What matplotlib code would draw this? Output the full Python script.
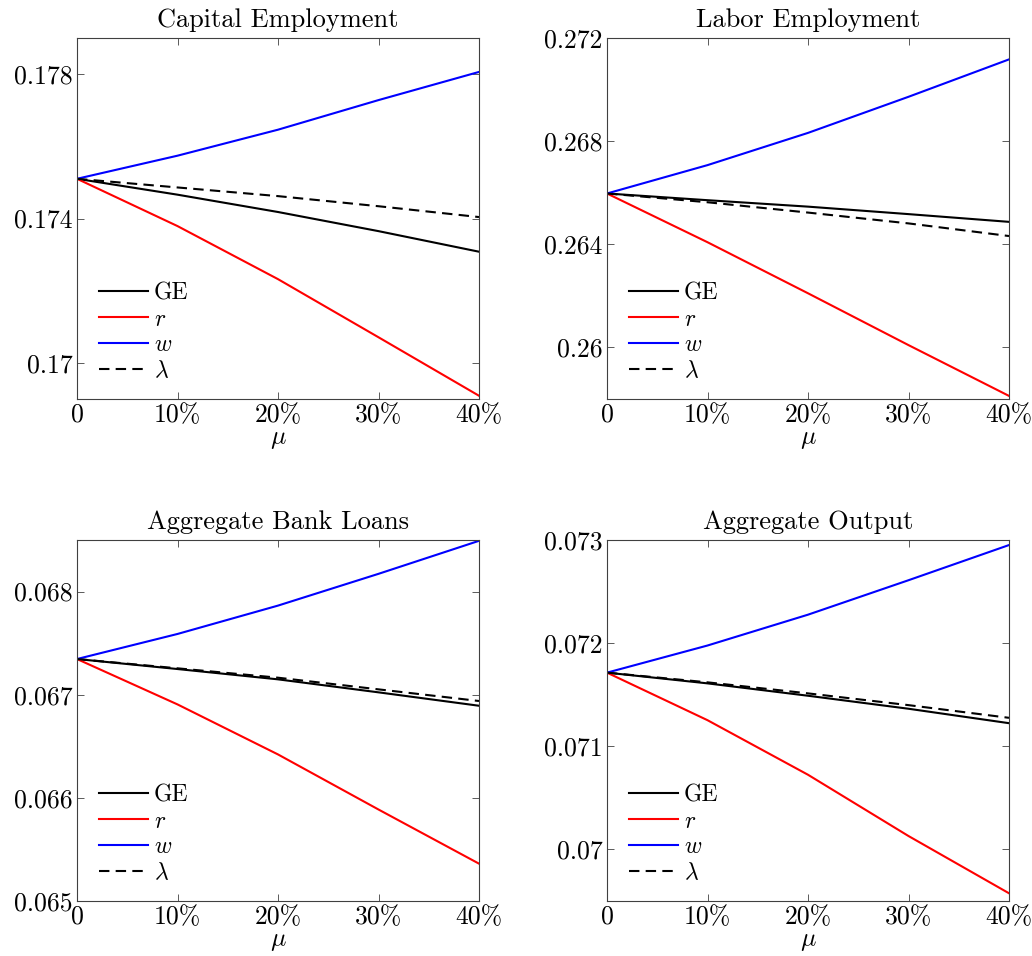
"""
Four-panel comparison: GE vs partial channels (r, w, lambda) over mu
"""
import matplotlib
matplotlib.use('Agg')
import matplotlib.pyplot as plt

plt.rcParams['font.family'] = ['cmr10', 'DejaVu Serif']
plt.rcParams['mathtext.fontset'] = 'cm'
plt.rcParams['axes.formatter.use_mathtext'] = True

# data points
mu = [0.0, 0.1, 0.2, 0.3, 0.4]
mu_ticklabels = ['0', '10%', '20%', '30%', '40%']
series_labels = ['GE', '$r$', '$w$', r'$\lambda$']

titles = ['Capital Employment', 'Labor Employment',
          'Aggregate Bank Loans', 'Aggregate Output']

capital_ge = [0.17510, 0.17466, 0.17418, 0.17365, 0.17308]
capital_r = [0.17510, 0.17379, 0.17232, 0.17071, 0.16909]
capital_w = [0.17510, 0.17574, 0.17646, 0.17728, 0.17806]
capital_lam = [0.17510, 0.17486, 0.17462, 0.17434, 0.17404]

labor_ge = [0.26597, 0.26571, 0.26546, 0.26517, 0.26487]
labor_r = [0.26597, 0.26408, 0.26210, 0.26009, 0.25812]
labor_w = [0.26597, 0.26707, 0.26832, 0.26972, 0.27117]
labor_lam = [0.26597, 0.26563, 0.26523, 0.26481, 0.26432]

loans_ge = [0.067346, 0.067249, 0.067149, 0.067023, 0.066893]
loans_r = [0.067346, 0.066906, 0.066421, 0.065887, 0.065362]
loans_w = [0.067346, 0.067589, 0.067864, 0.068172, 0.068492]
loans_lam = [0.067346, 0.067256, 0.067165, 0.067052, 0.066939]

output_ge = [0.071714, 0.071610, 0.071490, 0.071364, 0.071224]
output_r = [0.071714, 0.071253, 0.070724, 0.070130, 0.069575]
output_w = [0.071714, 0.071977, 0.072276, 0.072610, 0.072951]
output_lam = [0.071714, 0.071620, 0.071513, 0.071399, 0.071276]

# y axis setup for each panel
ylims = [(0.169, 0.179), (0.258, 0.272), (0.065, 0.0685), (0.0695, 0.073)]
yticks = [[0.17, 0.174, 0.178], [0.26, 0.264, 0.268, 0.272],
          [0.065, 0.066, 0.067, 0.068], [0.07, 0.071, 0.072, 0.073]]
yticklabels = [['0.17', '0.174', '0.178'], ['0.26', '0.264', '0.268', '0.272'],
               ['0.065', '0.066', '0.067', '0.068'], ['0.07', '0.071', '0.072', '0.073']]

panels = [
    (capital_ge, capital_r, capital_w, capital_lam),
    (labor_ge, labor_r, labor_w, labor_lam),
    (loans_ge, loans_r, loans_w, loans_lam),
    (output_ge, output_r, output_w, output_lam),
]

fig = plt.figure(figsize=(10.32, 9.56), dpi=100)
W, H = 1032, 956
# axes boxes in pixels: left, top, right, bottom
boxes = [(77, 38, 479, 399), (607, 38, 1009, 399),
         (77, 540, 479, 901), (607, 540, 1009, 901)]

axis_color = '#404040'

for i, (ge, r, w, lam) in enumerate(panels):
    l, t, rt, b = boxes[i]
    ax = fig.add_axes([l / W, 1 - b / H, (rt - l) / W, (b - t) / H])

    ax.plot(mu, ge, color='black', lw=1.5, label=series_labels[0])
    ax.plot(mu, r, color='red', lw=1.5, label=series_labels[1])
    ax.plot(mu, w, color='blue', lw=1.5, label=series_labels[2])
    ax.plot(mu, lam, color='black', lw=1.5, ls=(0, (5, 3)), label=series_labels[3])

    ax.set_xlim(0, 0.4)
    ax.set_ylim(*ylims[i])
    ax.set_xticks(mu)
    ax.set_xticklabels(mu_ticklabels)
    ax.set_yticks(yticks[i])
    ax.set_yticklabels(yticklabels[i])

    ax.tick_params(direction='in', length=5, width=0.6, color=axis_color,
                   top=True, right=True, labelsize=18.5, pad=3)
    for sp in ax.spines.values():
        sp.set_color(axis_color)
        sp.set_linewidth(0.8)

    ax.set_title(titles[i], fontsize=19, pad=8)
    ax.set_xlabel(r'$\mu$', fontsize=18.5, labelpad=0)

    ax.legend(loc='lower left', frameon=False, fontsize=17,
              handlelength=2.1, handletextpad=0.25, labelspacing=0.16,
              borderaxespad=0.0, bbox_to_anchor=(0.03, 0.02))

fig.savefig('out.png', dpi=100)
plt.close(fig)
